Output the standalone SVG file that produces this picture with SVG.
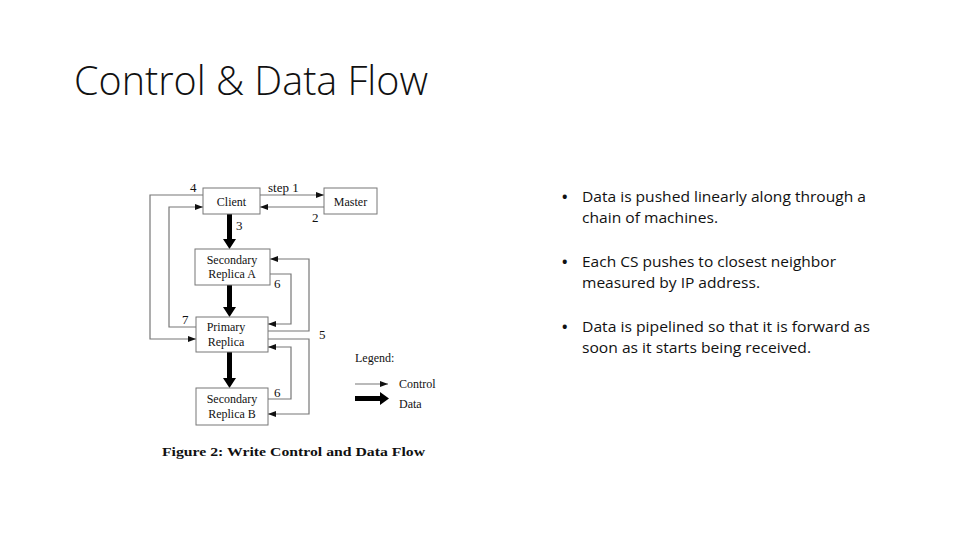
<svg xmlns="http://www.w3.org/2000/svg" width="960" height="540" viewBox="0 0 960 540">
<defs>
<marker id="ah" viewBox="0 0 8 6" refX="8" refY="3" markerWidth="8" markerHeight="6" markerUnits="userSpaceOnUse" orient="auto">
<path d="M0,0 L8,3 L0,6 Z" fill="#111"/>
</marker>
</defs>
<style>
.box{fill:#fff;stroke:#777;stroke-width:1}
.lbl{font-family:"Liberation Serif","DejaVu Serif",serif;font-size:12px;fill:#111}
.num{font-family:"Liberation Serif","DejaVu Serif",serif;font-size:13px;fill:#111}
.ctl{fill:none;stroke:#777;stroke-width:1.2;marker-end:url(#ah)}
.data{fill:#000}
.bul{font-family:"Open Sans","Liberation Sans",sans-serif;font-size:14.5px;fill:#111}
</style>
<rect width="960" height="540" fill="#fff"/>
<text x="74" y="95" font-family="'Open Sans','Liberation Sans',sans-serif" font-weight="300" font-size="40" fill="#111" textLength="354" lengthAdjust="spacingAndGlyphs">Control &amp; Data Flow</text>

<g id="connectors">
<path class="ctl" d="M260,195 H324"/>
<path class="ctl" d="M324,207 H260"/>
<path class="ctl" d="M203,195 H150 V339 H196"/>
<path class="ctl" d="M196,327 H169 V207 H203"/>
<path class="ctl" d="M270,274 H291 V324 H268"/>
<path class="ctl" d="M268,331 H309 V259 H270"/>
<path class="ctl" d="M268,399 H291 V347 H268"/>
<path class="ctl" d="M268,339 H309 V414 H268"/>
<path class="data" d="M227,214 H232 V239 H236 L229.5,249 L223,239 H227 Z"/>
<path class="data" d="M227,285 H232 V307 H236 L229.5,317 L223,307 H227 Z"/>
<path class="data" d="M227,352 H232 V378 H236 L229.5,388 L223,378 H227 Z"/>
<text class="num" x="268" y="192">step 1</text>
<text class="num" x="312" y="222">2</text>
<text class="num" x="236" y="230">3</text>
<text class="num" x="190" y="192">4</text>
<text class="num" x="182" y="324">7</text>
<text class="num" x="274" y="288">6</text>
<text class="num" x="274" y="397">6</text>
<text class="num" x="319" y="339">5</text>
</g>

<g id="client"><rect class="box" x="203" y="188" width="57" height="26"/><text class="lbl" x="231.5" y="206" text-anchor="middle">Client</text></g>
<g id="master"><rect class="box" x="324" y="188" width="53" height="26"/><text class="lbl" x="350.5" y="206" text-anchor="middle">Master</text></g>
<g id="replicaA"><rect class="box" x="195" y="249" width="75" height="36"/><text class="lbl" x="232" y="264" text-anchor="middle">Secondary</text><text class="lbl" x="232" y="278" text-anchor="middle">Replica A</text></g>
<g id="primary"><rect class="box" x="196" y="317" width="72" height="35"/><text class="lbl" x="226" y="331" text-anchor="middle">Primary</text><text class="lbl" x="226" y="346" text-anchor="middle">Replica</text></g>
<g id="replicaB"><rect class="box" x="196" y="388" width="72" height="37"/><text class="lbl" x="232" y="403" text-anchor="middle">Secondary</text><text class="lbl" x="232" y="418" text-anchor="middle">Replica B</text></g>

<g id="legend">
<text class="lbl" x="355" y="362">Legend:</text>
<path class="ctl" d="M355,384 H388" stroke="#333"/>
<path class="data" d="M355,396 H380 V392 L389,398.5 L380,405 V401 H355 Z"/>
<text class="lbl" x="399" y="388">Control</text>
<text class="lbl" x="399" y="408">Data</text>
</g>

<text x="162" y="456" font-family="'Liberation Serif','DejaVu Serif',serif" font-weight="bold" font-size="13" fill="#111" textLength="263" lengthAdjust="spacingAndGlyphs">Figure 2:  Write Control and Data Flow</text>

<g id="bullets">
<text class="bul" x="562" y="202" font-weight="bold">•</text>
<text class="bul" x="582" y="202" textLength="284" lengthAdjust="spacingAndGlyphs">Data is pushed linearly along through a</text>
<text class="bul" x="582" y="223" textLength="136" lengthAdjust="spacingAndGlyphs">chain of machines.</text>
<text class="bul" x="562" y="267" font-weight="bold">•</text>
<text class="bul" x="582" y="267" textLength="254" lengthAdjust="spacingAndGlyphs">Each CS pushes to closest neighbor</text>
<text class="bul" x="582" y="288" textLength="178" lengthAdjust="spacingAndGlyphs">measured by IP address.</text>
<text class="bul" x="562" y="332" font-weight="bold">•</text>
<text class="bul" x="582" y="332" textLength="288" lengthAdjust="spacingAndGlyphs">Data is pipelined so that it is forward as</text>
<text class="bul" x="582" y="353" textLength="229" lengthAdjust="spacingAndGlyphs">soon as it starts being received.</text>
</g>
</svg>
